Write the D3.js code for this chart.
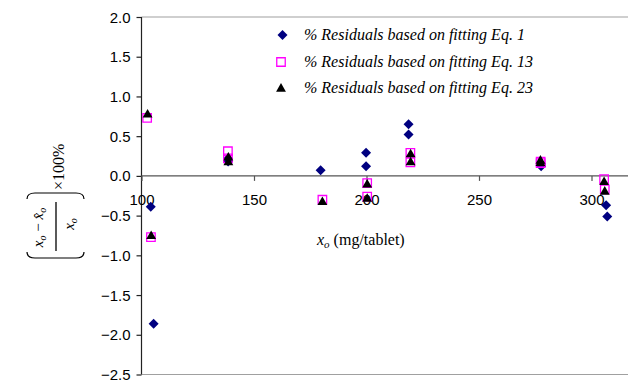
<!DOCTYPE html>
<html>
<head>
<meta charset="utf-8">
<script src="https://cdn.jsdelivr.net/npm/d3@7"></script>
<style>
body { margin: 0; background: #fff; }
svg { display: block; }
</style>
</head>
<body>
<div id="chart"></div>
<script>
// values
var xTicks = [100, 150, 200, 250, 300];
var yTicks = [-2.5, -2.0, -1.5, -1.0, -0.5, 0.0, 0.5, 1.0, 1.5, 2.0];

var seriesNames = [
	"% Residuals based on fitting Eq. 1",
	"% Residuals based on fitting Eq. 13",
	"% Residuals based on fitting Eq. 23"
];

var eq1X = [104.1, 105.4, 138.5, 138.5, 179.6, 199.8, 199.8, 218.7, 218.7, 277.6, 277.6, 306.5, 307.0];
var eq1Y = [-0.39, -1.86, 0.22, 0.18, 0.07, 0.29, 0.12, 0.65, 0.52, 0.15, 0.12, -0.37, -0.51];

var eq13X = [102.5, 104.2, 138.4, 138.4, 180.4, 200.3, 200.3, 219.5, 219.5, 277.4, 277.4, 305.6, 305.9];
var eq13Y = [0.73, -0.77, 0.31, 0.22, -0.30, -0.09, -0.26, 0.29, 0.17, 0.18, 0.16, -0.04, -0.17];

var eq23X = [102.7, 104.3, 138.6, 138.6, 180.4, 200.3, 200.3, 219.6, 219.6, 277.3, 277.3, 305.6, 305.9];
var eq23Y = [0.78, -0.75, 0.24, 0.18, -0.32, -0.10, -0.28, 0.28, 0.18, 0.20, 0.17, -0.07, -0.19];

var W = 628, H = 382;
var SERIF = "Liberation Serif";
var SANS = "Liberation Sans";

var svg = d3.select("#chart").append("svg")
	.attr("width", W)
	.attr("height", H);

var x = d3.scaleLinear().domain([100, 320]).range([141.5, 636.5]);
var y = d3.scaleLinear().domain([-2.5, 2.0]).range([374.5, 17]);

// plot area border (top / bottom)
svg.append("line")
	.attr("x1", x(100)).attr("x2", W)
	.attr("y1", y(2.0)).attr("y2", y(2.0))
	.attr("stroke", "#a0a0a0").attr("stroke-width", 1.2);
svg.append("line")
	.attr("x1", x(100)).attr("x2", W)
	.attr("y1", y(-2.5)).attr("y2", y(-2.5))
	.attr("stroke", "#a0a0a0").attr("stroke-width", 1.2);

// y axis
var yAxis = svg.append("g")
	.attr("transform", "translate(" + x(100) + ",0)")
	.call(d3.axisLeft(y).tickValues(yTicks).tickSize(5).tickPadding(6)
		.tickFormat(d3.format(".1f")));
yAxis.attr("font-family", SANS).attr("font-size", 15);
yAxis.selectAll("path, line").attr("stroke", "#222").attr("stroke-width", 1.2);
yAxis.select(".domain").attr("d", "M0," + y(2.0) + "V" + y(-2.5));
yAxis.selectAll(".tick text").attr("dy", "0.34em").attr("fill", "#000");

// x axis crossing at y = 0
var xAxis = svg.append("g")
	.attr("transform", "translate(0," + y(0) + ")")
	.call(d3.axisBottom(x).tickValues(xTicks).tickSize(5).tickPadding(13));
xAxis.attr("font-family", SANS).attr("font-size", 15);
xAxis.selectAll("path, line").attr("stroke", "#555").attr("stroke-width", 1.2);
xAxis.select(".domain").attr("d", "M" + x(100) + ",0H" + W);
xAxis.selectAll(".tick text").attr("fill", "#000");

function pts(xs, ys) {
	return xs.map(function (d, i) { return { x: d, y: ys[i] }; });
}

var diamond = d3.symbol().type(d3.symbolSquare).size(50);
var square = d3.symbol().type(d3.symbolSquare).size(72);
var triangle = d3.symbol().type(d3.symbolTriangle).size(42);

svg.append("g").selectAll("path")
	.data(pts(eq1X, eq1Y))
	.enter().append("path")
	.attr("d", diamond)
	.attr("fill", "#000080")
	.attr("transform", function (d) {
		return "translate(" + x(d.x) + "," + y(d.y) + ") rotate(45)";
	});

svg.append("g").selectAll("path")
	.data(pts(eq13X, eq13Y))
	.enter().append("path")
	.attr("d", square)
	.attr("fill", "none")
	.attr("stroke", "#ff00ff")
	.attr("stroke-width", 1.3)
	.attr("transform", function (d) {
		return "translate(" + x(d.x) + "," + y(d.y) + ")";
	});

svg.append("g").selectAll("path")
	.data(pts(eq23X, eq23Y))
	.enter().append("path")
	.attr("d", triangle)
	.attr("fill", "#000")
	.attr("transform", function (d) {
		return "translate(" + x(d.x) + "," + (y(d.y) + 0.8) + ")";
	});

// legend
var legend = svg.append("g");
var legY = [35, 62, 88];
legend.append("path").attr("d", diamond).attr("fill", "#000080")
	.attr("transform", "translate(282.5," + legY[0] + ") rotate(45)");
legend.append("path").attr("d", square).attr("fill", "none")
	.attr("stroke", "#ff00ff").attr("stroke-width", 1.3)
	.attr("transform", "translate(281," + legY[1] + ")");
legend.append("path").attr("d", triangle).attr("fill", "#000")
	.attr("transform", "translate(281," + (legY[2] + 0.8) + ")");
legend.selectAll("text")
	.data(seriesNames)
	.enter().append("text")
	.attr("font-family", SERIF)
	.attr("font-size", 16)
	.attr("font-style", "italic")
	.attr("x", 304)
	.attr("y", function (d, i) { return legY[i] + 5; })
	.text(function (d) { return d; });

// x axis title
var xt = svg.append("text")
	.attr("font-family", SERIF)
	.attr("font-size", 16)
	.attr("x", 317)
	.attr("y", 245);
xt.append("tspan").attr("font-style", "italic").text("x");
xt.append("tspan").attr("font-style", "italic").attr("font-size", 11).attr("dy", 3).text("o");
xt.append("tspan").attr("dy", -3).text(" (mg/tablet)");

// y axis title: ((x_o - x^_o) / x_o) x100%
var yl = svg.append("g")
	.attr("font-family", SERIF)
	.attr("transform", "translate(56,226) rotate(-90)");

yl.append("line")
	.attr("x1", -25).attr("x2", 24)
	.attr("y1", 0).attr("y2", 0)
	.attr("stroke", "#000").attr("stroke-width", 1.3);

var num = yl.append("text")
	.attr("x", -1.5).attr("y", -13)
	.attr("text-anchor", "middle")
	.attr("font-size", 15)
	.attr("font-style", "italic");
num.append("tspan").text("x");
num.append("tspan").attr("font-size", 10).attr("dy", 3).text("o");
num.append("tspan").attr("dy", -3).attr("font-style", "normal").text(" \u2212 ");
num.append("tspan").text("x\u0302");
num.append("tspan").attr("font-size", 10).attr("dy", 3).text("o");

var den = yl.append("text")
	.attr("x", 2).attr("y", 18)
	.attr("text-anchor", "middle")
	.attr("font-size", 15)
	.attr("font-style", "italic");
den.append("tspan").text("x");
den.append("tspan").attr("font-size", 10).attr("dy", 3).text("o");

// big parentheses
yl.append("path")
	.attr("d", "M-26,-29 Q-32,-29 -32,-21 L-32,20 Q-32,28 -26,28")
	.attr("fill", "none").attr("stroke", "#000").attr("stroke-width", 1.2);
yl.append("path")
	.attr("d", "M27,-29 Q33,-29 33,-21 L33,20 Q33,28 27,28")
	.attr("fill", "none").attr("stroke", "#000").attr("stroke-width", 1.2);

yl.append("text")
	.attr("x", 36).attr("y", 8)
	.attr("font-size", 16)
	.text("\u00d7100%");
</script>
</body>
</html>
